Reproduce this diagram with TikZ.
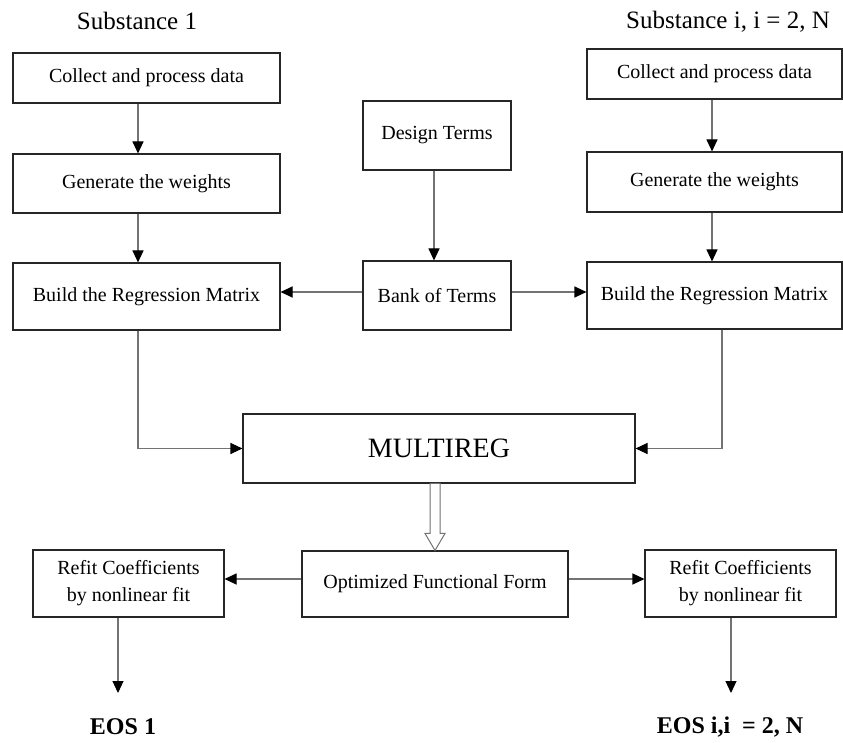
\documentclass[tikz,border=0pt]{standalone}
\usepackage{fontspec}
\setmainfont{Liberation Serif}
\usetikzlibrary{arrows.meta}
\tikzset{
  box/.style={draw=black!85, line width=1.1pt, inner sep=0pt, align=center, font=\fontsize{20}{27}\selectfont},
  conn/.style={draw=black!55, line width=1.1pt, -{Triangle[length=12pt,width=11pt,color=black]}},
  head/.style={font=\fontsize{25}{30}\selectfont},
  eos/.style={font=\fontsize{24}{28}\selectfont\bfseries},
  hollow/.style={draw=black!55, line width=1pt, fill=white}
}
\begin{document}
\begin{tikzpicture}[x=1pt,y=-1pt]
\useasboundingbox (0,0) rectangle (843,743);

% headers
\node[head] (h1) at (137,21) {Substance 1};
\node[head] (h2) at (728,22) {Substance i, i = 2, N};

% left column
\node[box, minimum width=267pt, minimum height=50pt] (cl) at (146.5,78) {Collect and process data};
\node[box, minimum width=267pt, minimum height=59pt] (gl) at (146.5,183.5) {Generate the weights};
\node[box, minimum width=267pt, minimum height=67pt] (bl) at (146.5,296.5) {Build the Regression Matrix};

% middle column
\node[box, minimum width=148pt, minimum height=69pt] (dt) at (437,135.5) {Design Terms};
\node[box, minimum width=148pt, minimum height=69pt] (bk) at (437,295.5) {Bank of Terms};

% right column
\node[box, minimum width=255pt, minimum height=50pt] (cr) at (714.5,74) {Collect and process data};
\node[box, minimum width=255pt, minimum height=60pt] (gr) at (714.5,182) {Generate the weights};
\node[box, minimum width=255pt, minimum height=67pt] (br) at (714.5,295.5) {Build the Regression Matrix};

% MULTIREG and below
\node[box, minimum width=392pt, minimum height=69pt, font=\fontsize{28}{32}\selectfont] (mr) at (439,448.5) {MULTIREG};
\node[box, minimum width=266pt, minimum height=66pt] (opt) at (435,584) {Optimized Functional Form};
\node[box, minimum width=191pt, minimum height=67pt] (rl) at (128.5,583.5) {Refit Coefficients\\by nonlinear fit};
\node[box, minimum width=191pt, minimum height=67pt] (rr) at (740.5,583.5) {Refit Coefficients\\by nonlinear fit};

\node[eos] (eos1) at (123,727) {EOS 1};
\node[eos] (eosi) at (730,727) {EOS i,i\ \ = 2, N};

% helper coordinates
\coordinate (lx) at (138,0);
\coordinate (rx) at (712,0);
\coordinate (mx) at (434,0);
\coordinate (rdx) at (722,0);
\coordinate (e1) at (118,693);
\coordinate (e2) at (731,693);

% connectors
\draw[conn] (lx |- cl.south) -- (lx |- gl.north);
\draw[conn] (lx |- gl.south) -- (lx |- bl.north);
\draw[conn] (rx |- cr.south) -- (rx |- gr.north);
\draw[conn] (rx |- gr.south) -- (rx |- br.north);
\draw[conn] (mx |- dt.south) -- (mx |- bk.north);
\draw[conn] ([yshift=3.5pt]bk.west) -- ([yshift=3.5pt]bk.west -| bl.east);
\draw[conn] ([yshift=3.5pt]bk.east) -- ([yshift=3.5pt]bk.east -| br.west);
\draw[conn] (lx |- bl.south) |- (mr.west);
\draw[conn] (rdx |- br.south) |- (mr.east);
\draw[conn] ([yshift=5pt]opt.west) -- ([yshift=5pt]opt.west -| rl.east);
\draw[conn] ([yshift=5pt]opt.east) -- ([yshift=5pt]opt.east -| rr.west);
\draw[conn] (e1 |- rl.south) -- (e1);
\draw[conn] (e2 |- rr.south) -- (e2);

% hollow arrow MULTIREG -> Optimized
\draw[hollow] (opt.north) -- ++(-10,-17) -- ++(5,0) -- ++(0,-50) -- ++(10,0) -- ++(0,50) -- ++(5,0) -- cycle;
\end{tikzpicture}
\end{document}
